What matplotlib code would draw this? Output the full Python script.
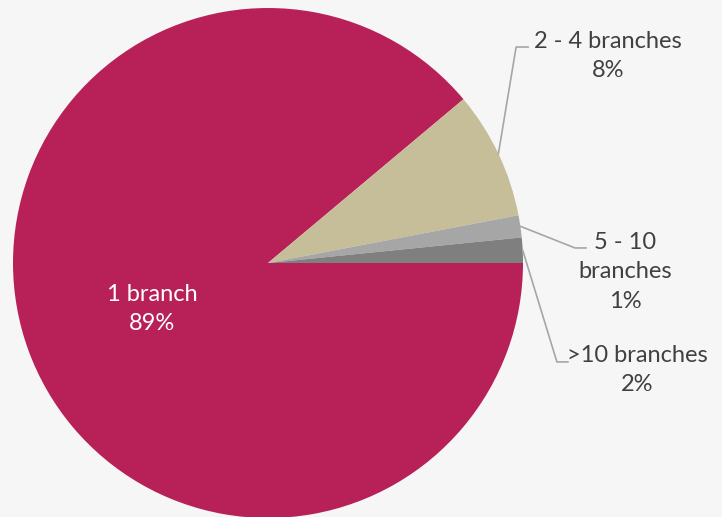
import matplotlib.pyplot as plt
import numpy as np

plt.rcParams['font.family'] = ['Lato', 'DejaVu Sans']

labels = ['1 branch', '2 - 4 branches', '5 - 10\nbranches', '>10 branches']
shares = [88.9, 8.1, 1.4, 1.6]
colors = ['#B72158', '#C5BE98', '#A6A6A6', '#7F7F7F']

fig = plt.figure(figsize=(7.22, 5.17), dpi=100, facecolor='#f6f6f6')
ax = fig.add_axes([13 / 722, -1 / 517, 510 / 722, 510 / 517])
ax.set_facecolor('none')

wedges, _ = ax.pie(shares, colors=colors, startangle=0, counterclock=False,
                   radius=1, wedgeprops={'linewidth': 0})
ax.set_xlim(-1, 1)
ax.set_ylim(-1, 1)
ax.axis('off')

pcts = ['%.0f%%' % s for s in shares]
fs = 17
ls = 1.5

# inside label for the big slice
ax.text(-0.455, -0.18, labels[0] + '\n' + pcts[0], color='white', fontsize=fs,
        ha='center', va='center', linespacing=ls)

# outside labels with leader lines: (elbow, end, text position)
outside = [
    (1, (0.973, 0.847), (1.02, 0.847), (1.333, 0.812)),
    (2, (1.204, 0.059), (1.247, 0.059), (1.40, -0.035)),
    (3, (1.133, -0.388), (1.176, -0.388), (1.447, -0.42)),
]
for i, elbow, end, txt in outside:
    w = wedges[i]
    mid = np.deg2rad((w.theta1 + w.theta2) / 2)
    x0, y0 = np.cos(mid), np.sin(mid)
    ax.plot([x0, elbow[0], end[0]], [y0, elbow[1], end[1]], color='#A6A6A6',
            lw=1.2, clip_on=False)
    ax.text(txt[0], txt[1], labels[i] + '\n' + pcts[i], color='#404040', fontsize=fs,
            ha='center', va='center', linespacing=ls, clip_on=False)

plt.savefig('out.png', dpi=100, facecolor=fig.get_facecolor())
